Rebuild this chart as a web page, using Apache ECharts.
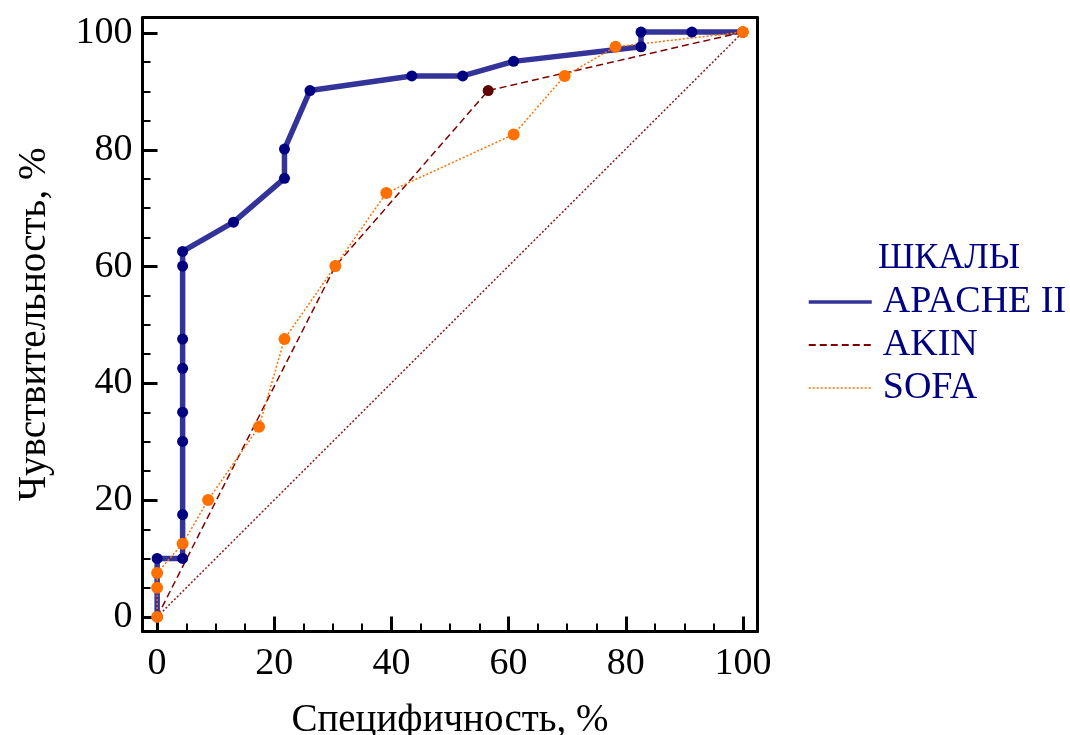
<!DOCTYPE html>
<html>
<head>
<meta charset="utf-8">
<title>ROC</title>
<script src="https://cdn.jsdelivr.net/npm/echarts@6/dist/echarts.min.js"></script>
<style>
  html, body { margin: 0; padding: 0; background: #fff; }
  #main { width: 1070px; height: 735px; }
</style>
</head>
<body>
<div id="main"></div>
<script>
// ROC curves: specificity (x) vs sensitivity (y), %
var apacheX = [0, 0, 4.35, 4.35, 4.35, 4.35, 4.35, 4.35, 4.35, 4.35, 13.04, 21.74, 21.74, 26.09, 43.48, 52.17, 60.87, 82.61, 82.61, 91.3, 100]
var apacheY = [0, 10, 10, 17.5, 30, 35, 42.5, 47.5, 60, 62.5, 67.5, 75, 80, 90, 92.5, 92.5, 95, 97.5, 100, 100, 100]
var akinX = [0, 30.43, 56.52, 100]
var akinY = [0, 60, 90, 100]
var sofaX = [0, 0, 0, 4.35, 8.7, 17.39, 21.74, 30.43, 39.13, 60.87, 69.57, 78.26, 100]
var sofaY = [0, 5, 7.5, 12.5, 20, 32.5, 47.5, 60, 72.5, 82.5, 92.5, 97.5, 100]
var diagX = [0, 100]
var diagY = [0, 100]
var seriesNames = ['APACHE II', 'AKIN', 'SOFA']
var legendTitle = 'ШКАЛЫ'
var xName = 'Специфичность, %'
var yName = 'Чувствительность, %'

function pairs(xs, ys) {
  return xs.map(function (x, i) { return [x, ys[i]] })
}

var font = 'Liberation Serif'
var navy = '#000080'

// outer box: -2.5..102.5 on both axes
var frameAxis = {
  min: -2.5, max: 102.5,
  axisLine: { show: true, onZero: false, lineStyle: { color: '#000', width: 3 } },
  axisTick: { show: false },
  axisLabel: { show: false },
  splitLine: { show: false }
}

// ticks and labels: 0..100, pushed out to the box edge with offset
var tickAxis = {
  type: 'value', min: 0, max: 100, interval: 20,
  axisLine: { show: false, onZero: false },
  axisTick: { show: true, inside: true, length: 15, lineStyle: { color: '#000', width: 3 } },
  minorTick: { show: true, splitNumber: 4, length: 8, lineStyle: { color: '#000', width: 2 } },
  axisLabel: { color: '#000', fontFamily: font, fontSize: 38 },
  splitLine: { show: false }
}

var myChart = echarts.init(document.getElementById('main'))
myChart.setOption({
  animation: false,
  backgroundColor: '#fff',
  grid: [
    { left: 142.5, right: 312.5, top: 17.5, bottom: 103.5, outerBoundsMode: 'none', containLabel: false },
    { left: 157, right: 327, top: 33, bottom: 118, outerBoundsMode: 'none', containLabel: false }
  ],
  title: {
    text: legendTitle, left: 873, top: 236,
    textStyle: { color: navy, fontFamily: font, fontSize: 36, fontWeight: 'normal' }
  },
  legend: {
    orient: 'vertical', left: 807, top: 283, padding: 0,
    itemWidth: 63, itemHeight: 14, itemGap: 5,
    itemStyle: { opacity: 0 },
    textStyle: { color: navy, fontFamily: font, fontSize: 38, padding: [0, 0, 0, 6] },
    data: [
      { name: seriesNames[0], lineStyle: { width: 3.5 } },
      { name: seriesNames[1], lineStyle: { width: 2 } },
      { name: seriesNames[2], lineStyle: { width: 1.5 } }
    ]
  },
  xAxis: [
    Object.assign({ type: 'value', gridIndex: 0, position: 'bottom', name: xName, nameLocation: 'middle', nameGap: 70,
      nameTextStyle: { color: '#000', fontFamily: font, fontSize: 39 } }, frameAxis),
    Object.assign({ type: 'value', gridIndex: 0, position: 'top' }, frameAxis),
    Object.assign({ gridIndex: 1, position: 'bottom', offset: 14.5 }, tickAxis, { axisLabel: Object.assign({}, tickAxis.axisLabel, { margin: 14 }) })
  ],
  yAxis: [
    Object.assign({ type: 'value', gridIndex: 0, position: 'left', name: yName, nameLocation: 'middle', nameGap: 88,
      nameTextStyle: { color: '#000', fontFamily: font, fontSize: 39 } }, frameAxis),
    Object.assign({ type: 'value', gridIndex: 0, position: 'right' }, frameAxis),
    Object.assign({ gridIndex: 1, position: 'left', offset: 14.5 }, tickAxis, { axisLabel: Object.assign({}, tickAxis.axisLabel, { margin: 10 }) })
  ],
  series: [
    {
      name: 'diag', type: 'line', xAxisIndex: 0, yAxisIndex: 0, symbol: 'none', silent: true,
      lineStyle: { color: '#8b1a1a', width: 1.5, type: [2, 2] },
      data: pairs(diagX, diagY)
    },
    {
      name: seriesNames[0], type: 'line', xAxisIndex: 0, yAxisIndex: 0,
      symbol: 'circle', symbolSize: 11,
      lineStyle: { color: '#33339a', width: 5.5 },
      itemStyle: { color: navy },
      data: pairs(apacheX, apacheY)
    },
    {
      name: seriesNames[1], type: 'line', xAxisIndex: 0, yAxisIndex: 0,
      symbol: 'circle', symbolSize: 11,
      lineStyle: { color: '#800000', width: 1.5, type: [7, 4] },
      itemStyle: { color: '#600000' },
      data: pairs(akinX, akinY)
    },
    {
      name: seriesNames[2], type: 'line', xAxisIndex: 0, yAxisIndex: 0,
      symbol: 'circle', symbolSize: 12,
      lineStyle: { color: '#ff7000', width: 1.5, type: [2, 2] },
      itemStyle: { color: '#ff7000' },
      data: pairs(sofaX, sofaY)
    }
  ]
})
</script>
</body>
</html>
